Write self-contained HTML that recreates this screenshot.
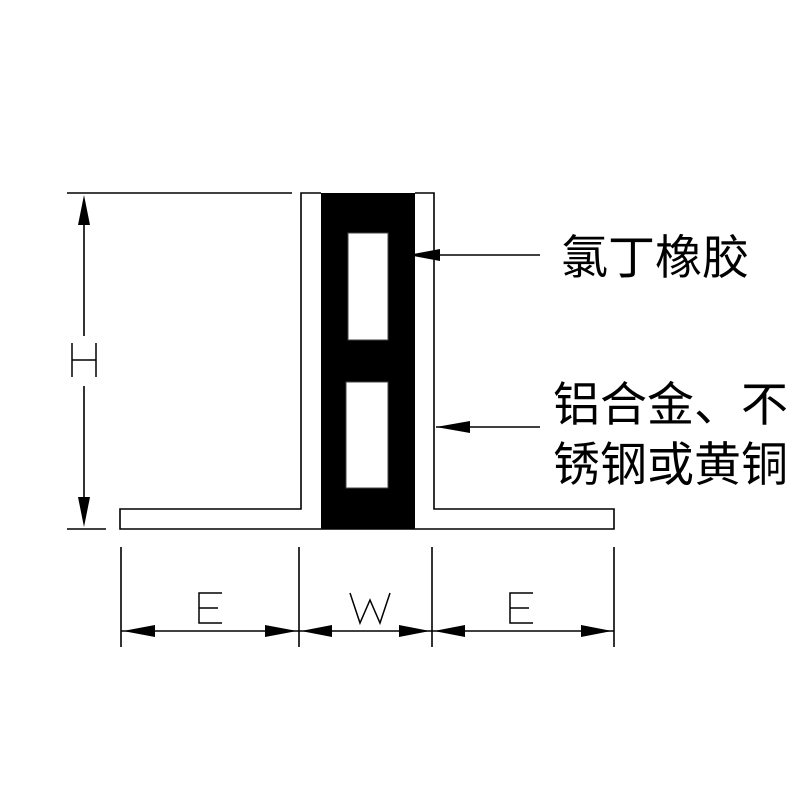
<!DOCTYPE html>
<html><head><meta charset="utf-8"><style>body{margin:0;background:#fff}svg{display:block}</style></head><body>
<svg width="800" height="800" viewBox="0 0 800 800" xmlns="http://www.w3.org/2000/svg">
<rect width="800" height="800" fill="#fff"/>
<g stroke="#000" stroke-width="1.6" fill="none">
<line x1="67" y1="193" x2="292" y2="193"/>
<line x1="67" y1="529" x2="106" y2="529"/>
<polyline points="321,193 301,193 301,509 120,509 120,529 614,529 614,509 434,509 434,193 415,193"/>
<line x1="84" y1="200" x2="84" y2="336"/>
<line x1="84" y1="386" x2="84" y2="522"/>
<line x1="121" y1="547" x2="121" y2="647"/>
<line x1="299" y1="547" x2="299" y2="647"/>
<line x1="432" y1="547" x2="432" y2="647"/>
<line x1="614" y1="547" x2="614" y2="647"/>
<line x1="121" y1="631" x2="614" y2="631"/>
<line x1="410" y1="255" x2="540" y2="255"/>
<line x1="436" y1="427" x2="540" y2="427"/>
</g>
<rect x="321" y="193" width="94" height="336" fill="#000"/>
<rect x="348" y="233" width="40" height="107" fill="#fff" stroke="#444" stroke-width="1"/>
<rect x="346" y="382" width="42" height="106" fill="#fff" stroke="#444" stroke-width="1"/>
<g fill="#000">
<polygon points="84,195 78,225 90,225"/>
<polygon points="84,527 78,497 90,497"/>
<polygon points="123,631 155,625 155,637"/>
<polygon points="297,631 265,625 265,637"/>
<polygon points="301,631 332,625 332,637"/>
<polygon points="430,631 399,625 399,637"/>
<polygon points="434,631 465,625 465,637"/>
<polygon points="612,631 581,625 581,637"/>
<polygon points="408,255 440,249 440,261"/>
<polygon points="436,427 470,421 470,433"/>
</g>
<g stroke="#000" stroke-width="1.5" fill="none">
<path d="M72 343V377M96 343V377M72 360H96"/>
<path d="M222 593H199V623H222M199 608H218"/>
<path d="M350 593L360 623L370 600L380 623L390 593"/>
<path d="M533 593H510V623H533M510 608H529"/>
</g>
<g font-family="'Liberation Sans','Noto Sans CJK SC',sans-serif" font-size="47" fill="#000">
<text x="561" y="274">氯丁橡胶</text>
<text x="553" y="421">铝合金、不</text>
<text x="553" y="481">锈钢或黄铜</text>
</g>
</svg>
</body></html>
